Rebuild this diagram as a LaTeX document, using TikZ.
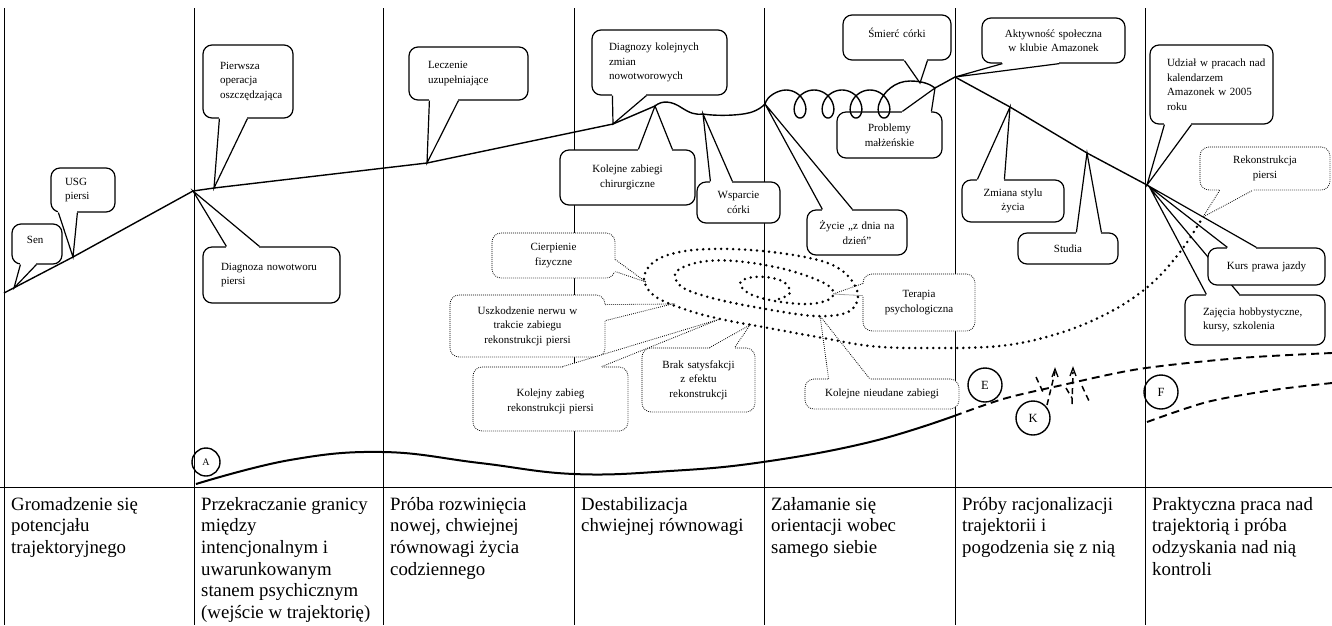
\documentclass[tikz,border=0pt]{standalone}
\usepackage{fontspec}
\setmainfont{Liberation Serif}
\usetikzlibrary{calc}

% callout wedge: white body, the box edge opened between the two base points
\newcommand{\solidptr}[3]{%
  \fill[white] (#1) -- (#3) -- (#2) -- cycle;
  \draw[white, line width=2.6pt] (#1) -- (#2);
  \draw[callline] (#1) -- (#3) -- (#2);}
\newcommand{\dotptr}[3]{%
  \fill[white] (#1) -- (#3) -- (#2) -- cycle;
  \draw[white, line width=2pt] (#1) -- (#2);
  \draw[dotline] (#1) -- (#3) -- (#2);}

\tikzset{
  colline/.style={line width=0.9pt},
  callline/.style={line width=1.2pt, line join=miter},
  dotline/.style={line width=0.8pt, dash pattern=on 0.8pt off 1.2pt},
  callbox/.style={draw, line width=1.2pt, rounded corners=9pt, fill=white,
    inner sep=0pt, font=\fontsize{11}{14.5}\selectfont},
  dotbox/.style={draw, line width=0.8pt, dash pattern=on 0.8pt off 1.2pt,
    rounded corners=9pt, fill=white, inner sep=0pt, align=center,
    font=\fontsize{11}{14.5}\selectfont},
  traj/.style={line width=1.4pt, line join=round},
  spiral/.style={line width=2.8pt, dash pattern=on 0pt off 6pt, line cap=round},
  phase/.style={line width=2pt},
  phasedash/.style={line width=1.9pt, dash pattern=on 8pt off 5pt},
  kdash/.style={line width=1.5pt, dash pattern=on 6pt off 4pt},
  lbl/.style={circle, draw, line width=1.4pt, inner sep=0pt},
  celltext/.style={anchor=north west, inner sep=0pt, align=left,
    font=\fontsize{18.8}{21.6}\selectfont},
}

\begin{document}
\begin{tikzpicture}[x=1pt, y=-1pt]
\useasboundingbox (0,0) rectangle (1332,625);

% ---------- table frame ----------
\foreach \cx in {4,194,383,574,764,955,1145}
  \draw[colline] (\cx,8) -- (\cx,625);
\draw[colline] (0,487) -- (1332,487);

% ---------- trajectory points ----------
\coordinate (t0) at (4,293);
\coordinate (ts) at (14,288);
\coordinate (t1) at (73,257);
\coordinate (t2) at (193,191);
\coordinate (t3) at (214,188);
\coordinate (t4) at (427,163);
\coordinate (t5) at (613,124);
\coordinate (t6) at (655,106);
\coordinate (t7) at (703,114);
\coordinate (t8) at (765,104);
\coordinate (tsm) at (920,83);
\coordinate (t9) at (935,88);
\coordinate (t10) at (955,77);
\coordinate (t11) at (1010,107);
\coordinate (t12) at (1087,153);
\coordinate (t13) at (1147,185);
\coordinate (tz) at (1150,188);

% points on the dotted spiral
\coordinate (tipCier) at (646,282);
\coordinate (tipUsz) at (672,304);
\coordinate (tipKol) at (720,319);
\coordinate (tipBrak) at (750,325);
\coordinate (tipTer) at (833,294);
\coordinate (tipNie) at (820,316);
\coordinate (tipRek) at (1203,217);

% ---------- solid callouts ----------
\node[callbox, minimum width=50pt, minimum height=40pt, text width=20pt,
  align=left, text depth=8pt] (sen) at (37,244) {Sen};
\solidptr{$(sen.south west)+(9,0)$}{$(sen.south west)+(25,0)$}{ts}

\node[callbox, minimum width=64pt, minimum height=44pt, text width=36pt,
  align=left] (usg) at (83,190) {USG\\piersi};
\solidptr{$(usg.south west)+(8,0)$}{$(usg.south west)+(27,0)$}{t1}

\node[callbox, minimum width=90pt, minimum height=73pt, text width=56pt,
  align=left] (pierwsza) at (248,81.5) {Pierwsza\\operacja\\oszczędzająca};
\solidptr{$(pierwsza.south west)+(17,0)$}{$(pierwsza.south west)+(45,0)$}{t3}

\node[callbox, minimum width=137pt, minimum height=56pt, text width=101pt,
  align=left] (diagnoza) at (271.5,275) {Diagnoza nowotworu\\piersi};
\solidptr{$(diagnoza.north west)+(24,0)$}{$(diagnoza.north west)+(57,0)$}{t2}

\node[callbox, minimum width=119pt, minimum height=53pt, text width=81pt,
  align=left] (leczenie) at (468.5,73.5) {Leczenie\\uzupełniające};
\solidptr{$(leczenie.south west)+(21,0)$}{$(leczenie.south west)+(50,0)$}{t4}

\node[callbox, minimum width=135pt, minimum height=65pt, text width=101pt,
  align=left] (diagnozy) at (659.5,62.5) {Diagnozy kolejnych\\zmian\\nowotworowych};
\solidptr{$(diagnozy.south west)+(21,0)$}{$(diagnozy.south west)+(55,0)$}{t5}

\node[callbox, minimum width=135pt, minimum height=55pt, text width=125pt,
  align=center] (kolejne) at (627.5,177.5) {Kolejne zabiegi\\chirurgiczne};
\solidptr{$(kolejne.north west)+(79,0)$}{$(kolejne.north west)+(113,0)$}{t6}

\node[callbox, minimum width=83pt, minimum height=41pt, text width=73pt,
  align=center] (wsparcie) at (738.5,202.5) {Wsparcie\\córki};
\solidptr{$(wsparcie.north west)+(14,0)$}{$(wsparcie.north west)+(36,0)$}{t7}

\node[callbox, minimum width=100pt, minimum height=45pt, text width=90pt,
  align=center] (zycie) at (857,232.5) {Życie „z dnia na\\dzień''};
\solidptr{$(zycie.north west)+(16,0)$}{$(zycie.north west)+(46,0)$}{t8}

\node[callbox, minimum width=108pt, minimum height=45pt, text width=98pt,
  align=center, text depth=10pt] (smierc) at (897,37.5) {Śmierć córki};
\solidptr{$(smierc.south west)+(62,0)$}{$(smierc.south west)+(85,0)$}{tsm}

\node[callbox, minimum width=105pt, minimum height=46pt, text width=95pt,
  align=center] (problemy) at (889.5,135) {Problemy\\małżeńskie};
\solidptr{$(problemy.north west)+(66,0)$}{$(problemy.north west)+(95,0)$}{t9}

\node[callbox, minimum width=143pt, minimum height=45pt, text width=133pt,
  align=center] (aktywnosc) at (1053.5,40.5) {Aktywność społeczna\\w klubie Amazonek};
\solidptr{$(aktywnosc.south west)+(21,0)$}{$(aktywnosc.south west)+(78,0)$}{t10}

\node[callbox, minimum width=102pt, minimum height=42pt, text width=92pt,
  align=center] (zmiana) at (1013,201) {Zmiana stylu\\życia};
\solidptr{$(zmiana.north west)+(16,0)$}{$(zmiana.north west)+(43,0)$}{t11}

\node[callbox, minimum width=100pt, minimum height=31pt, text width=90pt,
  align=center] (studia) at (1068,248.5) {Studia};
\solidptr{$(studia.north west)+(59,0)$}{$(studia.north west)+(84,0)$}{t12}

\node[callbox, minimum width=123pt, minimum height=79pt, text width=89pt,
  align=left] (udzial) at (1211.5,84.5)
  {\mbox{Udział w pracach nad}\\kalendarzem\\\mbox{Amazonek w 2005}\\roku};
\solidptr{$(udzial.south west)+(15,0)$}{$(udzial.south west)+(42,0)$}{t13}

\node[callbox, minimum width=140pt, minimum height=50pt, text width=104pt,
  align=left] (zajecia) at (1255,320) {\mbox{Zajęcia hobbystyczne,}\\kursy, szkolenia};
\solidptr{$(zajecia.north west)+(22,0)$}{$(zajecia.north west)+(55,0)$}{tz}

\node[callbox, minimum width=117pt, minimum height=37pt, text width=107pt,
  align=center] (kurs) at (1266.5,266.5) {Kurs prawa jazdy};
\solidptr{$(kurs.north west)+(20,0)$}{$(kurs.north west)+(49,0)$}{t13}

% ---------- dotted callouts ----------
\node[dotbox, minimum width=123pt, minimum height=45pt, text width=113pt]
  (cierpienie) at (553.5,255.5) {Cierpienie\\fizyczne};
\dotptr{$(cierpienie.north east)+(0,27)$}{$(cierpienie.north east)+(0,39)$}{tipCier}

\node[dotbox, minimum width=155pt, minimum height=62pt, text width=145pt]
  (uszkodzenie) at (527.5,326)
  {Uszkodzenie nerwu w\\trakcie zabiegu\\rekonstrukcji piersi};
\dotptr{$(uszkodzenie.north east)+(0,10)$}{$(uszkodzenie.north east)+(0,26)$}{tipUsz}

\node[dotbox, minimum width=155pt, minimum height=64pt, text width=145pt,
  text depth=12pt] (kolejny) at (550.5,399)
  {Kolejny zabieg\\rekonstrukcji piersi};
\dotptr{$(kolejny.north west)+(90,0)$}{$(kolejny.north west)+(129,0)$}{tipKol}

\node[dotbox, minimum width=113pt, minimum height=64pt, text width=103pt]
  (brak) at (698.5,380) {Brak satysfakcji\\z efektu\\rekonstrukcji};
\dotptr{$(brak.north west)+(68,0)$}{$(brak.north west)+(93,0)$}{tipBrak}

\node[dotbox, minimum width=112pt, minimum height=57pt, text width=102pt]
  (terapia) at (919,302.5) {Terapia\\psychologiczna};
\dotptr{$(terapia.north west)+(0,10)$}{$(terapia.north west)+(0,22)$}{tipTer}

\node[dotbox, minimum width=154pt, minimum height=30pt, text width=144pt]
  (nieudane) at (882,394) {Kolejne nieudane zabiegi};
\dotptr{$(nieudane.north west)+(24,0)$}{$(nieudane.north west)+(65,0)$}{tipNie}

\node[dotbox, minimum width=130pt, minimum height=43pt, text width=120pt]
  (rekonstrukcja) at (1265,168.5) {Rekonstrukcja\\piersi};
\dotptr{$(rekonstrukcja.south west)+(20,0)$}{$(rekonstrukcja.south west)+(53,0)$}{tipRek}

% ---------- dotted spiral and its tail ----------
\draw[spiral] plot[smooth, tension=0.6] coordinates {
  (779,299) (790,293) (784,282) (766,277) (748,278) (740,284) (750,294)
  (775,301) (808,304) (830,299) (832,289) (815,279) (780,268) (735,261)
  (700,262) (676,272) (682,287) (712,298) (760,308) (815,316) (848,312)
  (858,296) (848,276) (825,262) (780,253) (730,249) (685,251) (655,261)
  (644,279) (656,297) (690,311) (725,320) (763,327) (823,338) (870,346)
  (920,348) (1000,346) (1060,333) (1110,312) (1150,285) (1180,252) (1203,217)};

% ---------- main trajectory ----------
\draw[traj] (t0) -- (t1) -- (t2) -- (t3) -- (t4) -- (t5) -- (t6)
  .. controls (662,100) and (672,101) .. (682,108)
  .. controls (690,113) and (695,115) .. (t7)
  .. controls (715,116) and (740,116) .. (752,112)
  .. controls (758,110) and (762,107) .. (t8)
  .. controls (767,96) and (778,90) .. (786,90)
  -- plot[domain=-180:1170, samples=180]
     ({800+0.07777*\x-12*sin(\x)}, {104+14*cos(\x)})
  .. controls (883,92) and (895,81) .. (910,81)
  .. controls (922,81) and (930,84) .. (t9)
  -- (t10) -- (t11) -- (t12) -- (t13);

% ---------- lower course ----------
\draw[phase] plot[smooth, tension=0.7] coordinates {
  (196,484) (290,460) (383,452) (480,463) (574,474) (670,471) (763,462)
  (870,442) (954,416)};
\draw[phasedash] plot[smooth] coordinates {
  (954,416) (1003,399) (1058,386) (1139,369) (1240,358) (1332,353)};
\draw[phasedash] plot[smooth] coordinates {
  (1147,422) (1207,402) (1273,390) (1332,383)};

% broken strokes near K
\draw[kdash] (1036,377) -- (1043,392);
\draw[kdash] (1047,405) -- (1055,372);
\draw[line width=1.3pt] (1052,377) -- (1055,369) -- (1058,377);
\draw[kdash] (1066,388) -- (1072,398);
\draw[kdash] (1072,404) -- (1073,372);
\draw[line width=1.3pt] (1070,376) -- (1073,368) -- (1076,376);
\draw[kdash] (1082,386) -- (1089,401);

% ---------- phase markers ----------
\node[lbl, minimum size=28pt, font=\fontsize{10}{12}\selectfont] (A) at (206,462) {A};
\node[lbl, minimum size=34pt, font=\fontsize{12.5}{14}\selectfont] (E) at (985,385) {E};
\node[lbl, minimum size=34pt, font=\fontsize{12.5}{14}\selectfont] (K) at (1033,418) {K};
\node[lbl, minimum size=34pt, font=\fontsize{12.5}{14}\selectfont] (F) at (1161,392) {F};

% ---------- phase names ----------
\node[celltext] (c0) at (11,497) {Gromadzenie się\\potencjału\\trajektoryjnego};
\node[celltext] (c1) at (201,497) {Przekraczanie granicy\\między\\intencjonalnym i\\uwarunkowanym\\stanem psychicznym\\(wejście w trajektorię)};
\node[celltext] (c2) at (390,497) {Próba rozwinięcia\\nowej, chwiejnej\\równowagi życia\\codziennego};
\node[celltext] (c3) at (581,497) {Destabilizacja\\chwiejnej równowagi};
\node[celltext] (c4) at (771,497) {Załamanie się\\orientacji wobec\\samego siebie};
\node[celltext] (c5) at (962,497) {Próby racjonalizacji\\trajektorii i\\pogodzenia się z nią};
\node[celltext] (c6) at (1152,497) {Praktyczna praca nad\\trajektorią i próba\\odzyskania nad nią\\kontroli};
\end{tikzpicture}
\end{document}
